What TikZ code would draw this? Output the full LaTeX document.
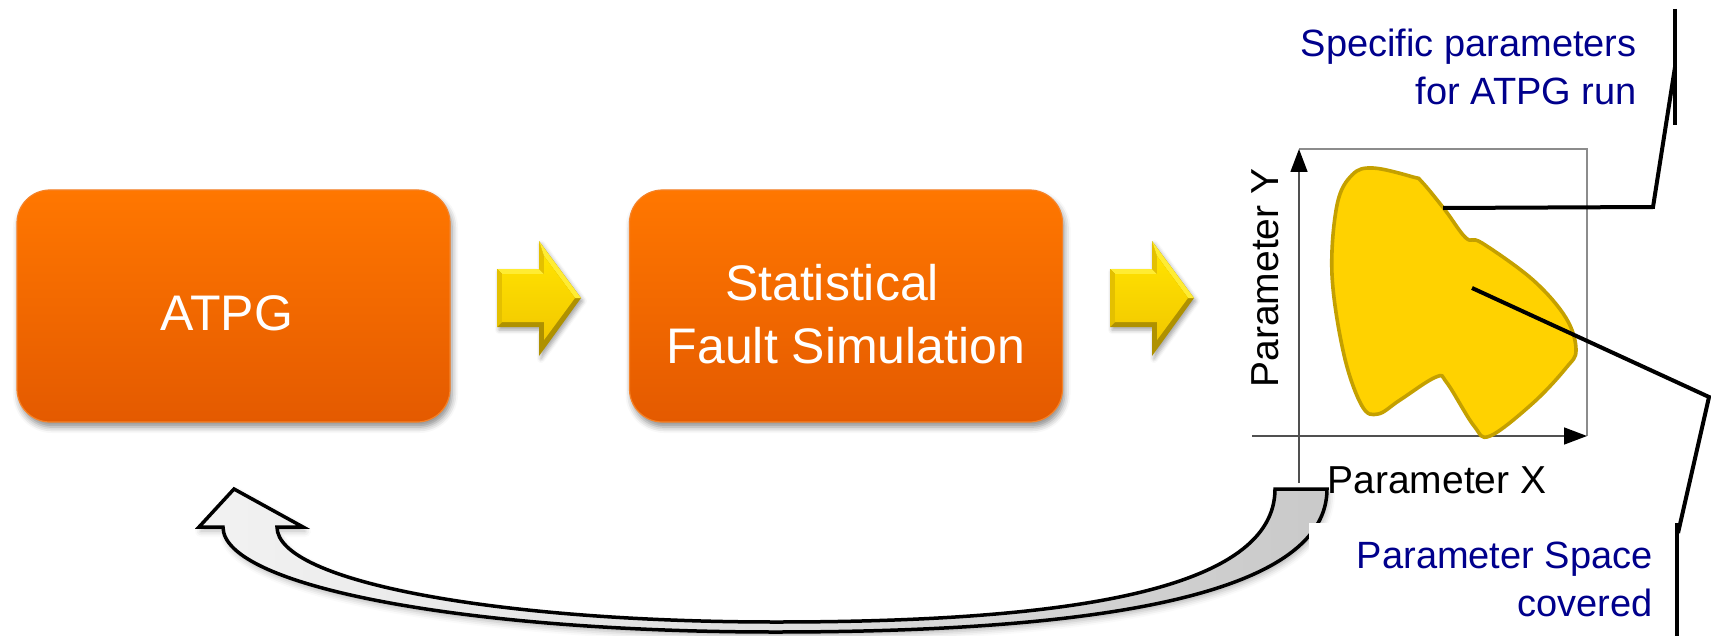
\documentclass[tikz,border=0pt]{standalone}
\usepackage{fontspec}
\setmainfont{Liberation Sans}
\usetikzlibrary{arrows.meta,shadows.blur}

\definecolor{boxtop}{RGB}{255,119,0}
\definecolor{boxbot}{RGB}{228,90,0}
\definecolor{boxrim}{RGB}{245,130,40}
\definecolor{calloutblue}{RGB}{0,0,140}
\definecolor{blobfill}{RGB}{255,210,0}
\definecolor{blobrim}{RGB}{196,160,0}
\definecolor{bevellight}{RGB}{255,236,50}
\definecolor{beveldark}{RGB}{175,145,0}
\definecolor{bevelmid}{RGB}{228,192,0}
\definecolor{facetop}{RGB}{255,226,0}
\definecolor{facebot}{RGB}{242,200,0}
\definecolor{axisgray}{RGB}{80,80,80}
\definecolor{framegray}{RGB}{140,140,140}

\tikzset{
  stepbox/.style={rectangle, rounded corners=16.5pt, minimum width=216.5pt,
    minimum height=116pt, top color=boxtop, bottom color=boxbot,
    draw=boxrim, line width=0.6pt,
    blur shadow={shadow xshift=1pt, shadow yshift=-2.5pt,
      shadow blur radius=3pt, shadow opacity=45}},
  steptext/.style={inner sep=0pt, text=white, align=center,
    font=\fontsize{25}{31.5}\selectfont},
  axislabel/.style={inner sep=0pt, font=\fontsize{19.5}{23}\selectfont},
  callout/.style={inner sep=0pt, align=right, text=calloutblue,
    font=\fontsize{19}{24}\selectfont},
  callline/.style={draw=black, line width=2pt},
  axisline/.style={draw=axisgray, line width=0.75pt,
    -{Triangle[length=11.5pt, width=8.5pt, color=black]}},
  goldarrow/.pic={
    % body with shadow, dark lower bevel
    \fill[beveldark,
      blur shadow={shadow xshift=1pt, shadow yshift=-1.5pt,
        shadow blur radius=2pt, shadow opacity=35}]
      (0,0) -- (42,0) -- (42,-28) -- (84,29) -- (42,87) -- (42,58)
      -- (0,58) -- cycle;
    % lit upper and left bevels
    \fill[bevellight] (0,0) -- (42,0) -- (47,5) -- (5,5) -- cycle;
    \fill[bevelmid] (0,0) -- (5,5) -- (5,53) -- (0,58) -- cycle;
    \fill[bevelmid] (42,0) -- (42,-28) -- (47,-13) -- (47,5) -- cycle;
    \fill[bevellight] (42,-28) -- (84,29) -- (78,29) -- (47,-13) -- cycle;
    % front face
    \shade[top color=facetop, bottom color=facebot]
      (5,5) -- (47,5) -- (47,-13) -- (78,29) -- (47,71) -- (47,53)
      -- (5,53) -- cycle;
  }
}

\begin{document}
\begin{tikzpicture}[x=0.5pt, y=-0.5pt]
  \useasboundingbox (0,0) rectangle (1711,636);

  % process steps
  \node (atpg) [stepbox] at (233.5,306) {};
  \node (atpgtext) [steptext, anchor=base] at (227,330) {ATPG};
  \node (sfs)  [stepbox] at (846,306) {};
  \node (sfstext) [steptext, anchor=north] at (846,264)
    {Statistical\kern0.56em\\Fault Simulation};

  % flow arrows between the steps
  \pic (flowA) at (497,269) {goldarrow};
  \pic (flowB) at (1110,269) {goldarrow};

  % feedback arrow from the parameter plot back to ATPG
  \shade[draw=black, line width=1.75pt, left color=gray!10, right color=gray!42,
    blur shadow={shadow xshift=1pt, shadow yshift=-2pt,
      shadow blur radius=3pt, shadow opacity=30}]
    (1275,489) -- (1327,489)
    .. controls (1327,590) and (1120,632) .. (775,632)
    .. controls (470,632) and (223,587) .. (223,527)
    -- (199,527) -- (234,489) -- (303,527) -- (277,527)
    .. controls (277,582) and (500,622) .. (776,622)
    .. controls (1070,622) and (1275,590) .. (1275,489) -- cycle;

  % parameter plot: frame and axes
  \coordinate (origin) at (1299,436);
  \coordinate (ytop) at (1299,149);
  \coordinate (xend) at (1587,436);
  \draw[framegray, line width=0.6pt] (ytop) -- (1587,149) -- (xend);
  \draw[axisline] (1299,483) -- (ytop);
  \draw[axisline] (1252,436) -- (xend);

  % covered region of the parameter space
  \draw[fill=blobfill, draw=blobrim, line width=1.8pt]
    plot[smooth cycle, tension=0.6] coordinates {
      (1373,168) (1413,177) (1422,182) (1445,210) (1466,238) (1482,243)
      (1533,280) (1566,318) (1576,350) (1566,368) (1533,403) (1490,436)
      (1474,426) (1447,383) (1436,377) (1400,400) (1378,414) (1362,406)
      (1344,355) (1332,275) (1337,205) (1352,175)};

  % axis labels
  \node (ylab) [axislabel, rotate=90, anchor=base] at (1278,278) {Parameter Y};
  \node (xlab) [axislabel, anchor=base] at (1437,493) {Parameter X};

  % callout: specific parameters
  \node (spec) [callout, anchor=north east] at (1637,29)
    {Specific parameters\\for ATPG run};
  \coordinate (specpt) at (1443,208);
  \coordinate (specelbow) at (1653,207);
  \coordinate (specbar) at (1675,67);
  \draw[callline] (specpt) -- (specelbow) -- (specbar);
  \draw[callline] (1675,9) -- (1675,125);

  % callout: covered parameter space
  \fill[white] (1309,523) rectangle (1711,640);
  \node (space) [callout, anchor=north east] at (1653,542)
    {Parameter Space\\covered};
  \coordinate (spacept) at (1472,288);
  \coordinate (spaceelbow) at (1709,397);
  \coordinate (spacebar) at (1678,533);
  \draw[callline] (spacept) -- (spaceelbow) -- (spacebar);
  \draw[callline] (1677,523) -- (1677,640);
\end{tikzpicture}
\end{document}
